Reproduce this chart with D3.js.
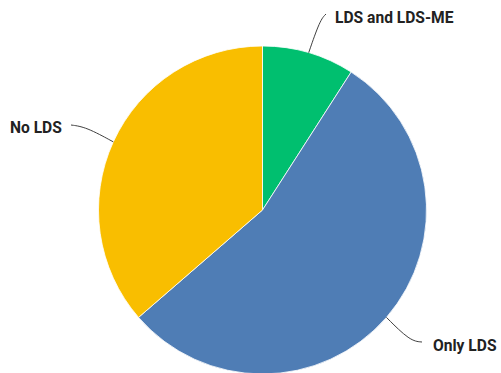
<!DOCTYPE html>
<html><head><meta charset="utf-8">
<script src="https://cdn.jsdelivr.net/npm/d3@7"></script>
<style>body{margin:0;background:#fff}svg{display:block}</style>
</head><body>
<svg id="c" width="501" height="373"></svg>
<script>
const categories = ["LDS and LDS-ME", "Only LDS", "No LDS"];
const values = [1, 6, 4];
const colors = ["#00BF6F", "#4F7DB5", "#F9BE00"];

const W = 501, H = 373, cx = 262.5, cy = 210, R = 164;
// label layout: text anchor point, leader elbow and end
const labelLayout = [
  {tx: 335, ty: 23, anchor: "start", elbow: [320, 20], end: [326, 14]},
  {tx: 433, ty: 351, anchor: "start", elbow: [410, 341], end: [422, 342]},
  {tx: 10, ty: 133, anchor: "start", elbow: [86, 127], end: [71, 125]}
];

const svg = d3.select("#c");
const g = svg.append("g").attr("transform", `translate(${cx},${cy})`);
const pie = d3.pie().sort(null).value(d => d)(values);
const arc = d3.arc().innerRadius(0).outerRadius(R);

g.selectAll("path.slice").data(pie).join("path")
  .attr("class", "slice")
  .attr("d", arc)
  .attr("fill", (d, i) => colors[i])
  .attr("stroke", "#fff").attr("stroke-width", 0.8);

const line = d3.line().curve(d3.curveBasis);
pie.forEach((d, i) => {
  const a = (d.startAngle + d.endAngle) / 2;
  const sx = cx + R * Math.sin(a), sy = cy - R * Math.cos(a);
  const L = labelLayout[i];
  svg.append("path")
    .attr("d", line([[sx, sy], L.elbow, L.end]))
    .attr("fill", "none").attr("stroke", "#404040").attr("stroke-width", 1);
  svg.append("text")
    .attr("x", L.tx).attr("y", L.ty)
    .attr("text-anchor", L.anchor)
    .attr("font-family", "Roboto, 'Liberation Sans', sans-serif")
    .attr("font-weight", "bold").attr("font-size", 15.6)
    .attr("fill", "#222")
    .text(categories[i]);
});
</script>
</body></html>
